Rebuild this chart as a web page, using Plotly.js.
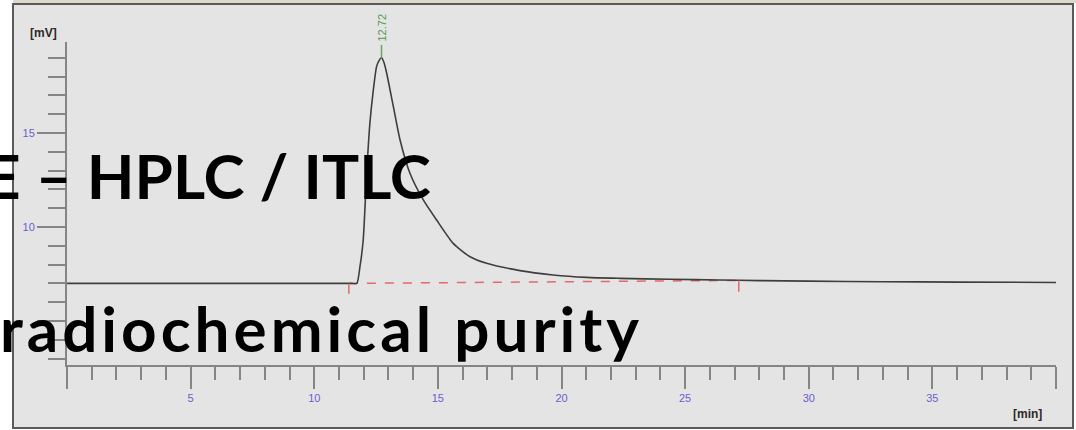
<!DOCTYPE html>
<html><head><meta charset="utf-8">
<script src="https://cdn.plot.ly/plotly-3.0.1.min.js"></script>
<style>html,body{margin:0;padding:0;background:#fff;}#chart{width:1076px;height:430px;}</style>
</head><body><div id="chart"></div>
<script>
// ---- data ----
const timeMin = [0, 5, 10, 11.5, 11.72, 11.85, 11.98, 12.12, 12.25, 12.39, 12.52, 12.62, 12.72, 12.82, 12.93, 13.2, 13.47, 13.87, 14.41, 14.95, 15.62, 16.3, 16.97, 18.32, 19.66, 21.01, 22.36, 24.38, 26.4, 28, 30, 33, 36, 40];
const signalMV = [7.0, 7.0, 7.0, 7.0, 7.0, 7.9, 9.31, 12.86, 15.52, 17.29, 18.53, 18.85, 19.0, 18.75, 18.18, 16.4, 14.63, 12.86, 11.44, 10.37, 9.13, 8.42, 8.07, 7.68, 7.45, 7.32, 7.27, 7.22, 7.18, 7.15, 7.12, 7.09, 7.07, 7.05];
const integStart = [11.40, 7.0];   // [time, mV]
const integEnd = [27.17, 7.16];
const peakTime = 12.72;
const peakHeight = 19.0;
const peakLabel = "12.72";
const xMajorTicks = [0, 5, 10, 15, 20, 25, 30, 35, 40];
const xTickLabels = ["", "5", "10", "15", "20", "25", "30", "35", ""];
const yMajorTicks = [5, 10, 15];
const yTickLabels = ["", "10", "15"];   // the "5" label is hidden under the slide text in the source
const titleLine1 = "E – HPLC / ITLC";
const titleLine2 = "radiochemical purity";
const yUnit = "[mV]";
const xUnit = "[min]";

// ---- layout geometry helpers ----
const L = 67, R = 20, T = 42, B = 65, W = 1076, H = 430;
const pw = W - L - R, ph = H - T - B;
const px = v => (v - L) / pw;
const py = v => (H - B - v) / ph;

const axisCol = '#858585';
const tickFont = {family: 'Liberation Sans, Arial, sans-serif', size: 11, color: '#6a5fcf'};
const red = '#e26a6a';

const traces = [
  {x: [integStart[0], integEnd[0]], y: [integStart[1], integEnd[1]], mode: 'lines',
   line: {color: red, width: 1.5, dash: 'dash'}, hoverinfo: 'skip', showlegend: false},
  {x: timeMin, y: signalMV, mode: 'lines', line: {color: '#3e3e3e', width: 1.6, shape: 'spline', smoothing: 0.6},
   showlegend: false}
];

const shapes = [
  {type: 'rect', xref: 'paper', yref: 'paper', x0: px(13), x1: px(1073), y0: py(428), y1: py(4),
   fillcolor: '#e4e4e4', line: {color: '#5a5a5a', width: 2}, layer: 'below'},
  {type: 'rect', xref: 'paper', yref: 'paper', x0: px(13), x1: px(1076), y0: py(3), y1: py(-2),
   fillcolor: '#ddd8cc', line: {width: 0}, layer: 'below'},
  {type: 'line', xref: 'x', yref: 'y', x0: integStart[0], x1: integStart[0], y0: integStart[1], y1: integStart[1] - 0.55,
   line: {color: red, width: 1.5}},
  {type: 'line', xref: 'x', yref: 'y', x0: integEnd[0], x1: integEnd[0], y0: integEnd[1], y1: integEnd[1] - 0.6,
   line: {color: red, width: 1.5}},
  {type: 'line', xref: 'x', yref: 'y', x0: peakTime, x1: peakTime, y0: peakHeight, y1: peakHeight + 0.68,
   line: {color: '#5aae5a', width: 1.5}}
];

const bigFont = {family: 'Lato, "DejaVu Sans", sans-serif', size: 62, color: '#000', weight: 700};
const smallBold = {family: 'Liberation Sans, Arial, sans-serif', size: 12, color: '#2e2a26', weight: 700};
const annotations = [
  {xref: 'x', yref: 'paper', x: peakTime, y: py(28), xanchor: 'center', yanchor: 'middle', text: peakLabel,
   textangle: -90, showarrow: false,
   font: {family: 'Liberation Sans, Arial, sans-serif', size: 11, color: '#4e9e4e'}},
  {xref: 'paper', yref: 'paper', x: px(43), y: py(33), xanchor: 'center', yanchor: 'middle', text: yUnit,
   showarrow: false, font: smallBold},
  {xref: 'paper', yref: 'paper', x: px(1027), y: py(414), xanchor: 'center', yanchor: 'middle', text: xUnit,
   showarrow: false, font: smallBold},
  {xref: 'paper', yref: 'paper', x: px(433), y: py(175), xanchor: 'right', yanchor: 'middle', text: titleLine1,
   showarrow: false, font: bigFont},
  {xref: 'paper', yref: 'paper', x: px(645), y: py(328), xanchor: 'right', yanchor: 'middle',
   text: '<span style="letter-spacing:4px">' + titleLine2 + '</span>',
   showarrow: false, font: bigFont}
];

const layout = {
  width: W, height: H,
  margin: {l: L, r: R, t: T, b: B, pad: 0},
  paper_bgcolor: '#ffffff', plot_bgcolor: 'rgba(0,0,0,0)',
  showlegend: false,
  xaxis: {range: [0, 40], showgrid: false, zeroline: false, showline: true, linecolor: axisCol, linewidth: 2,
    tickmode: 'array', tickvals: xMajorTicks, ticktext: xTickLabels, ticks: 'outside', ticklen: 22, tickwidth: 2,
    tickcolor: axisCol, tickfont: tickFont, ticklabelstandoff: 0,
    minor: {dtick: 1, ticks: 'outside', ticklen: 13, tickwidth: 2, tickcolor: axisCol, showgrid: false}},
  yaxis: {range: [2.66, 19.84], showgrid: false, zeroline: false, showline: true, linecolor: axisCol, linewidth: 2,
    tickmode: 'array', tickvals: yMajorTicks, ticktext: yTickLabels, ticks: 'outside', ticklen: 28, tickwidth: 2,
    tickcolor: axisCol, tickfont: tickFont, ticklabelstandoff: 0,
    minor: {dtick: 1, ticks: 'outside', ticklen: 17, tickwidth: 2, tickcolor: axisCol, showgrid: false}},
  shapes: shapes,
  annotations: annotations
};

Plotly.newPlot('chart', traces, layout, {displayModeBar: false, staticPlot: true});
</script>
</body></html>
